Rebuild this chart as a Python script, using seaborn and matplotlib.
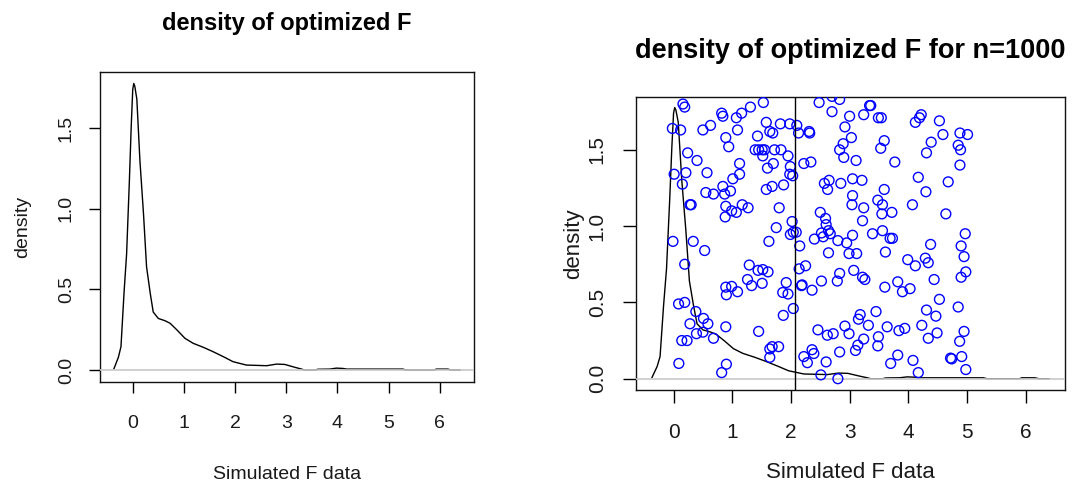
import matplotlib
matplotlib.use("Agg")
import matplotlib.pyplot as plt
import numpy as np
import pandas as pd
import seaborn as sns

# density curve of the optimized F values
dens_x = [-0.37, -0.28, -0.23, -0.17, -0.12, -0.065, -0.03, 0.0, 0.02, 0.04, 0.08, 0.14, 0.21,
          0.27, 0.34, 0.40, 0.50, 0.63, 0.73, 0.86, 1.02, 1.18, 1.38, 1.57, 1.77, 1.96,
          2.22, 2.62, 2.81, 2.97, 3.17, 3.30, 3.36, 3.56, 3.62, 3.85, 3.98, 4.11, 4.18,
          5.28, 5.34, 5.90, 5.93, 6.16, 6.22, 6.40]
dens_y = [0.006, 0.08, 0.145, 0.48, 0.72, 1.18, 1.51, 1.74, 1.777, 1.76, 1.68, 1.30, 0.97,
          0.64, 0.48, 0.36, 0.32, 0.306, 0.29, 0.25, 0.197, 0.166, 0.141, 0.114, 0.083, 0.052,
          0.031, 0.027, 0.037, 0.035, 0.017, 0.006, 0.0, 0.0, 0.005, 0.006, 0.012, 0.010, 0.006,
          0.006, 0.0, 0.0, 0.006, 0.006, 0.0, 0.0]

# simulated points on the right panel
pts_x = [0.16, 0.19, 1.53, 2.48, 2.70, 2.83, 0.82, 0.84, 1.07, 1.16, 1.31, 2.70, 3.00, 3.24,
         3.34, 3.36, 3.49, 3.54, 4.22, 4.19, 4.12, 4.53, 1.58, 1.82, 1.98, 2.10, 0.63, -0.02,
         0.12, 0.50, 1.09, 2.92, 2.13, 1.64, 1.69, 2.31, 2.32, 4.59, 4.88, 5.01, 1.43, 0.89,
         3.03, 2.89, 3.59, 4.39, 0.94, 0.24, 1.39, 1.45, 1.51, 1.55, 1.72, 1.83, 1.52, 1.95,
         2.83, 3.53, 4.31, 4.85, 4.89, 2.90, 3.11, 0.40, 1.125, 1.70, 2.22, 2.34, 3.77, 4.88,
         1.60, 1.99, 0.01, 0.21, 0.57, 1.125, 1.01, 1.98, 2.03, 3.05, 3.21, 4.17, 4.68, 0.15,
         2.57, 2.65, 2.85, 0.84, 1.68, 1.875, 0.55, 0.68, 0.87, 0.97, 1.58, 2.625, 3.59, 4.30,
         3.05, 3.48, 0.28, 0.30, 0.89, 1.17, 1.27, 1.80, 3.04, 3.24, 3.56, 3.55, 3.72, 4.07,
         4.64, 2.50, 0.88, 0.99, 1.07, 2.59, 2.60, 3.22, 2.02, 1.75, 2.64, 2.04, 1.99, 2.09,
         -0.01, 0.335, 1.625, 2.15, 2.40, 2.52, 2.55, 2.67, 2.80, 2.95, 3.05, 3.39, 3.56, 3.69,
         3.73, 4.38, 4.97, 4.90, 0.53, 2.64, 2.99, 3.12, 3.61, 4.95, 4.29, 4.34, 3.99, 4.12,
         0.19, 1.29, 1.44, 1.52, 1.61, 2.14, 2.25, 3.07, 2.83, 4.98, 4.90, 1.26, 1.33, 1.51,
         1.92, 2.19, 2.18, 2.52, 2.79, 3.22, 3.26, 3.82, 4.44, 0.89, 0.99, 0.90, 1.09, 1.86,
         1.95, 2.36, 3.60, 3.90, 4.03, 0.085, 0.19, 4.53, 2.04, 0.38, 3.45, 4.31, 4.85, 1.87,
         3.18, 4.47, 0.51, 0.28, 0.585, 3.15, 3.32, 2.92, 3.64, 3.84, 3.94, 4.23, 0.89, 1.45,
         2.46, 0.39, 0.50, 2.62, 2.72, 2.99, 4.49, 4.95, 0.68, 0.14, 0.23, 3.24, 3.49, 4.34,
         4.875, 1.68, 1.79, 1.64, 3.14, 3.10, 3.48, 2.36, 2.39, 2.83, 2.22, 1.64, 3.82, 4.72,
         4.74, 4.91, 0.09, 0.90, 2.28, 2.60, 3.70, 4.08, 0.82, 2.51, 4.17, 4.98, 2.80]
pts_y = [1.80, 1.78, 1.81, 1.81, 1.85, 1.83, 1.74, 1.72, 1.71, 1.74, 1.78, 1.75, 1.72, 1.73,
         1.79, 1.79, 1.71, 1.71, 1.73, 1.71, 1.68, 1.69, 1.68, 1.67, 1.67, 1.66, 1.66, 1.64,
         1.63, 1.63, 1.63, 1.65, 1.61, 1.62, 1.61, 1.62, 1.61, 1.60, 1.61, 1.60, 1.59, 1.58,
         1.58, 1.54, 1.56, 1.55, 1.52, 1.48, 1.50, 1.50, 1.50, 1.50, 1.50, 1.50, 1.46, 1.46,
         1.50, 1.51, 1.48, 1.53, 1.50, 1.45, 1.43, 1.43, 1.41, 1.41, 1.41, 1.42, 1.42, 1.40,
         1.38, 1.39, 1.34, 1.35, 1.35, 1.34, 1.31, 1.34, 1.33, 1.31, 1.30, 1.32, 1.29, 1.275,
         1.28, 1.30, 1.28, 1.26, 1.26, 1.27, 1.22, 1.21, 1.21, 1.23, 1.24, 1.24, 1.24, 1.225,
         1.20, 1.17, 1.14, 1.14, 1.13, 1.14, 1.12, 1.12, 1.14, 1.12, 1.14, 1.08, 1.09, 1.14,
         1.08, 1.09, 1.06, 1.10, 1.09, 1.05, 1.01, 1.035, 1.03, 0.99, 0.97, 0.96, 0.945, 0.96,
         0.90, 0.90, 0.90, 0.87, 0.915, 0.955, 0.93, 0.95, 0.905, 0.89, 0.94, 0.95, 0.97, 0.92,
         0.92, 0.88, 0.95, 0.87, 0.84, 0.825, 0.82, 0.82, 0.83, 0.80, 0.79, 0.76, 0.78, 0.74,
         0.75, 0.745, 0.71, 0.715, 0.70, 0.72, 0.74, 0.71, 0.69, 0.70, 0.665, 0.65, 0.61, 0.625,
         0.63, 0.615, 0.61, 0.64, 0.64, 0.665, 0.65, 0.635, 0.65, 0.60, 0.605, 0.55, 0.57, 0.565,
         0.555, 0.58, 0.60, 0.57, 0.59, 0.49, 0.50, 0.52, 0.46, 0.44, 0.44, 0.45, 0.47, 0.415,
         0.42, 0.41, 0.395, 0.36, 0.36, 0.39, 0.35, 0.345, 0.34, 0.315, 0.33, 0.35, 0.34, 0.31,
         0.32, 0.295, 0.305, 0.285, 0.295, 0.295, 0.30, 0.31, 0.265, 0.25, 0.25, 0.26, 0.275, 0.265,
         0.245, 0.21, 0.21, 0.195, 0.22, 0.185, 0.215, 0.19, 0.165, 0.175, 0.145, 0.14, 0.155, 0.135,
         0.13, 0.145, 0.10, 0.095, 0.105, 0.11, 0.10, 0.12, 0.04, 0.025, 0.04, 0.06, 0.00]

vline_x = 2.07
x_ticks = [0, 1, 2, 3, 4, 5, 6]
y_ticks = [0.0, 0.5, 1.0, 1.5]
y_tick_labels = ["0.0", "0.5", "1.0", "1.5"]

dens = pd.DataFrame({"x": dens_x, "y": dens_y})
pts = pd.DataFrame({"x": pts_x, "y": pts_y})

sns.set_style("ticks")
plt.rcParams["font.family"] = ["Liberation Sans", "DejaVu Sans"]
plt.rcParams["axes.linewidth"] = 1.0
plt.rcParams["xtick.major.width"] = 1.0
plt.rcParams["ytick.major.width"] = 1.0

fig = plt.figure(figsize=(10.73, 4.83), dpi=100)
ax1 = fig.add_axes([100 / 1073, 1 - 382 / 483, 374 / 1073, 310 / 483])
ax2 = fig.add_axes([636 / 1073, 1 - 390 / 483, 429 / 1073, 293.3 / 483])

txt = "#1a1a1a"


def style(ax, title, title_size, title_pad, lab_size, tick_size, tick_len,
          xlab_y, ylab_x, xpad, ypad):
    ax.set_xlim(-0.64, 6.67)
    ax.set_ylim(-0.074, 1.848)
    ax.set_xticks(x_ticks)
    ax.set_yticks(y_ticks)
    ax.set_yticklabels(y_tick_labels, rotation=90, va="center")
    ax.tick_params(axis="x", labelsize=tick_size, pad=xpad, length=tick_len,
                   colors="black", labelcolor=txt)
    ax.tick_params(axis="y", labelsize=tick_size, pad=ypad, length=tick_len,
                   colors="black", labelcolor=txt)
    for s in ax.spines.values():
        s.set_color("#111111")
        s.set_visible(True)
    ax.set_title(title, fontsize=title_size, fontweight="bold", pad=title_pad, color="black")
    ax.set_xlabel("Simulated F data", fontsize=lab_size, color=txt)
    ax.set_ylabel("density", fontsize=lab_size, color=txt)
    ax.xaxis.set_label_coords(0.5, xlab_y)
    ax.yaxis.set_label_coords(ylab_x, 0.5)


# left panel
sns.lineplot(data=dens, x="x", y="y", sort=False, estimator=None, color="black",
             linewidth=1.0, ax=ax1, zorder=2)
ax1.axhline(0, color="#c8c8c8", linewidth=1.2, zorder=3)
style(ax1, "density of optimized F", 17, 30, 14, 14, 8,
      -0.27, -0.185, 16, 10)

# right panel
sns.lineplot(data=dens, x="x", y="y", sort=False, estimator=None, color="black",
             linewidth=1.0, ax=ax2, zorder=2)
ax2.axhline(0, color="#c8c8c8", linewidth=1.2, zorder=3)
sns.scatterplot(data=pts, x="x", y="y", marker="o", s=50, facecolors="none",
                edgecolor="blue", linewidth=1.0, ax=ax2, zorder=4)
ax2.axvline(vline_x, color="black", linewidth=1.0, zorder=5)
style(ax2, "density of optimized F for n=1000", 19.5, 28, 16, 15, 9.5,
      -0.245, -0.12, 14, 11.5)

fig.savefig("out.png", dpi=100)
